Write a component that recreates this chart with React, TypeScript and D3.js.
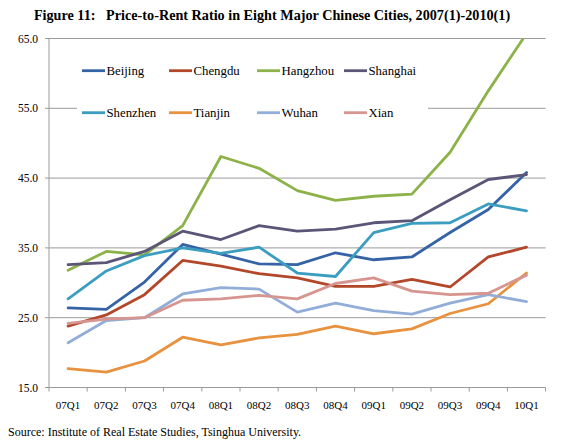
import React from "react";
import * as d3 from "d3";

const categories = ["07Q1","07Q2","07Q3","07Q4","08Q1","08Q2","08Q3","08Q4","09Q1","09Q2","09Q3","09Q4","10Q1"];
const yTicks = [15, 25, 35, 45, 55, 65];

const beijing  = [26.4, 26.2, 30.1, 35.5, 34.1, 32.7, 32.6, 34.3, 33.3, 33.7, 37.2, 40.5, 45.8];
const chengdu  = [23.8, 25.4, 28.3, 33.2, 32.4, 31.3, 30.7, 29.5, 29.5, 30.5, 29.4, 33.7, 35.1];
const hangzhou = [31.8, 34.5, 34.0, 38.2, 48.1, 46.4, 43.2, 41.8, 42.4, 42.7, 48.7, 57.5, 65.7];
const shanghai = [32.6, 32.9, 34.5, 37.4, 36.2, 38.2, 37.4, 37.7, 38.6, 38.9, 41.9, 44.8, 45.5];
const shenzhen = [27.7, 31.7, 33.9, 35.0, 34.2, 35.1, 31.4, 30.9, 37.2, 38.5, 38.6, 41.3, 40.3];
const tianjin  = [17.7, 17.2, 18.8, 22.2, 21.1, 22.1, 22.6, 23.8, 22.7, 23.4, 25.6, 27.0, 31.4];
const wuhan    = [21.4, 24.6, 25.0, 28.4, 29.3, 29.1, 25.8, 27.1, 26.0, 25.5, 27.1, 28.3, 27.3];
const xian     = [24.2, 24.8, 25.0, 27.5, 27.7, 28.2, 27.7, 29.9, 30.7, 28.8, 28.3, 28.5, 31.1];

const seriesNames = ["Beijing","Chengdu","Hangzhou","Shanghai","Shenzhen","Tianjin","Wuhan","Xian"];
const seriesValues = [beijing, chengdu, hangzhou, shanghai, shenzhen, tianjin, wuhan, xian];
const seriesColors = ["#3563A5","#B3472A","#8CB249","#5B5678","#3B9DBF","#E8913E","#92AED8","#D79590"];

const W = 570, H = 443;
const left = 49, right = 545.6, top = 38.5, bottom = 387.5;
const font = "'Liberation Serif', 'Times New Roman', serif";

export default function App() {
  const x = d3.scaleBand<string>().domain(categories).range([left, right]);
  const y = d3.scaleLinear().domain([15, 65]).range([bottom, top]);
  const line = d3.line<number>()
    .x((_, i) => (x(categories[i]) as number) + x.bandwidth() / 2)
    .y(d => y(d));

  const legendCols = [82, 169, 257, 344];
  const legendRows = [70.7, 112.7];

  return (
    <svg width={W} height={H} style={{ position: "absolute", left: 0, top: 0, background: "#fff" }}>
      <defs>
        <clipPath id="plot">
          <rect x={left} y={top} width={right - left + 2} height={bottom - top} />
        </clipPath>
      </defs>
      <text x={272} y={20} textAnchor="middle" fontFamily={font} fontWeight="bold" fontSize={14.2} fill="#000" style={{ whiteSpace: "pre" }}>
        {"Figure 11:   Price-to-Rent Ratio in Eight Major Chinese Cities, 2007(1)-2010(1)"}
      </text>
      {yTicks.map(t => (
        <g key={t}>
          {t !== 15 && <line x1={left} x2={right} y1={y(t)} y2={y(t)} stroke="#9a9a9a" strokeWidth={1} />}
          <line x1={left - 4} x2={left} y1={y(t)} y2={y(t)} stroke="#9a9a9a" strokeWidth={1} />
          <text x={38} y={y(t)} dy="0.35em" textAnchor="end" fontFamily={font} fontSize={11.5} fill="#000">{t.toFixed(1)}</text>
        </g>
      ))}
      <line x1={left} x2={left} y1={top} y2={bottom} stroke="#9a9a9a" strokeWidth={1} />
      <line x1={left} x2={right} y1={bottom} y2={bottom} stroke="#9a9a9a" strokeWidth={1} />
      {categories.map((c, i) => (
        <line key={"t" + c} x1={(x(c) as number)} x2={(x(c) as number)} y1={bottom} y2={bottom + 4} stroke="#9a9a9a" />
      ))}
      <line x1={right} x2={right} y1={bottom} y2={bottom + 4} stroke="#9a9a9a" />
      {categories.map(c => (
        <text key={c} x={(x(c) as number) + x.bandwidth() / 2} y={405} dy="0.35em" textAnchor="middle" fontFamily={font} fontSize={11} fill="#000">{c}</text>
      ))}
      <rect x={77} y={57} width={351} height={70} fill="#fff" />
      <g clipPath="url(#plot)">
        {seriesValues.map((vals, i) => (
          <path key={seriesNames[i]} d={line(vals) as string} fill="none" stroke={seriesColors[i]} strokeWidth={2.8} strokeLinejoin="round" strokeLinecap="round" />
        ))}
      </g>
      {seriesNames.map((n, i) => {
        const cx = legendCols[i % 4];
        const cy = legendRows[Math.floor(i / 4)];
        return (
          <g key={"l" + n}>
            <line x1={cx} x2={cx + 23} y1={cy} y2={cy} stroke={seriesColors[i]} strokeWidth={2.8} />
            <text x={cx + 24.5} y={cy} dy="0.35em" fontFamily={font} fontSize={12.8} fill="#000">{n}</text>
          </g>
        );
      })}
      <text x={8} y={432} dy="0.35em" fontFamily={font} fontSize={12} fill="#000">Source: Institute of Real Estate Studies, Tsinghua University.</text>
    </svg>
  );
}
